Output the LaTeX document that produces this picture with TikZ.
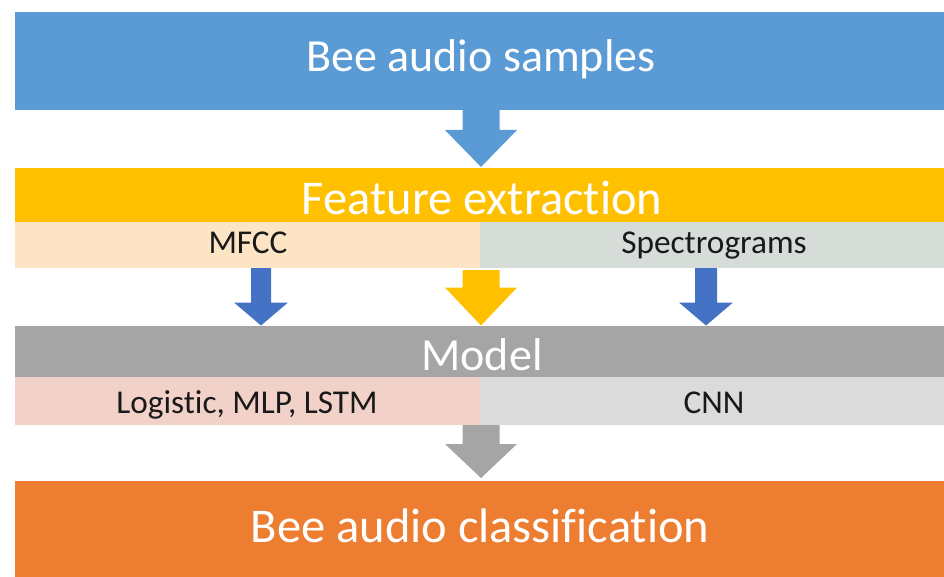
\documentclass[tikz,border=0pt]{standalone}
\usepackage{fontspec}
\setmainfont{Carlito}[RawFeature=-liga]
\usetikzlibrary{calc}

\definecolor{skyblue}{HTML}{5B9BD5}
\definecolor{deepblue}{HTML}{4472C4}
\definecolor{gold}{HTML}{FFC000}
\definecolor{midgray}{HTML}{A5A5A5}
\definecolor{burnt}{HTML}{ED7D31}
\definecolor{peach}{HTML}{FCE4C4}
\definecolor{sage}{HTML}{D6DCD8}
\definecolor{blush}{HTML}{F2D2C8}
\definecolor{lightgray}{HTML}{DBDBDB}

% block arrow pointing down: colour, from, to, shaft half width, head half width, head length
\newcommand\blockarrow[6]{%
  \fill[#1] ($(#2)+(-#4,0)$) -- ($(#2)+(#4,0)$) -- ($(#3)+(#4,-#6)$)
    -- ($(#3)+(#5,-#6)$) -- (#3) -- ($(#3)+(-#5,-#6)$) -- ($(#3)+(-#4,-#6)$) -- cycle;}

\tikzset{
  bar/.style={rectangle, inner sep=0pt, outer sep=0pt, anchor=north west},
  bigtext/.style={anchor=base, text=white, font=\fontsize{46}{50}\selectfont, inner sep=0pt},
  widetext/.style={bigtext, font=\fontsize{48.5}{52}\selectfont},
  smalltext/.style={anchor=base, text=black!90, font=\fontsize{33.3}{36}\selectfont, inner sep=0pt}
}

\begin{document}
\begin{tikzpicture}[x=1pt,y=-1pt]
\useasboundingbox (0,0) rectangle (944,577);
\begin{scope}
\clip (0,0) rectangle (944,577);

% bars
\node[bar, fill=skyblue, minimum width=935pt, minimum height=98pt] (samples) at (15,12) {};
\node[bar, fill=gold, minimum width=935pt, minimum height=54pt] (feature) at (15,168) {};
\node[bar, fill=peach, minimum width=465pt, minimum height=46pt] (mfcc) at (15,222) {};
\node[bar, fill=sage, minimum width=470pt, minimum height=46pt] (spectro) at (480,222) {};
\node[bar, fill=midgray, minimum width=935pt, minimum height=51pt] (model) at (15,326) {};
\node[bar, fill=blush, minimum width=465pt, minimum height=48pt] (classic) at (15,377) {};
\node[bar, fill=lightgray, minimum width=470pt, minimum height=48pt] (cnn) at (480,377) {};
\node[bar, fill=burnt, minimum width=935pt, minimum height=100pt] (result) at (15,481) {};

% texts
\node[bigtext] (tsamples) at (481,72) {Bee audio samples};
\node[widetext] (tfeature) at (482,215) {Feature extraction};
\node[smalltext] (tmfcc) at (248,254) {MFCC};
\node[smalltext] (tspectro) at (714,254) {Spectrograms};
\node[bigtext] (tmodel) at (482,370) {Model};
\node[smalltext] (tclassic) at (247,413) {Logistic, MLP, LSTM};
\node[smalltext] (tcnn) at (714,413) {CNN};
\node[widetext] (tresult) at (480,542) {Bee audio classification};

% arrow end points
\coordinate (a1s) at (samples.south -| 481,0);
\coordinate (a1e) at ($(feature.north -| 481,0)+(0,-1)$);
\coordinate (a2s) at ($(mfcc.south -| 481,0)+(0,2)$);
\coordinate (a2e) at ($(model.north -| 481,0)+(0,-0.5)$);
\coordinate (a3s) at (mfcc.south -| 261,0);
\coordinate (a3e) at ($(model.north -| 261,0)+(0,-0.5)$);
\coordinate (a4s) at (spectro.south -| 706,0);
\coordinate (a4e) at ($(model.north -| 706,0)+(0,-0.5)$);
\coordinate (a5s) at (classic.south -| 481,0);
\coordinate (a5e) at ($(result.north -| 481,0)+(0,-3)$);

% arrows
\blockarrow{skyblue}{a1s}{a1e}{18.5}{36}{37}
\blockarrow{gold}{a2s}{a2e}{18.5}{36}{38}
\blockarrow{deepblue}{a3s}{a3e}{10}{27}{23}
\blockarrow{deepblue}{a4s}{a4e}{11}{27}{23}
\blockarrow{midgray}{a5s}{a5e}{18.5}{36}{34}
\end{scope}
\end{tikzpicture}
\end{document}
